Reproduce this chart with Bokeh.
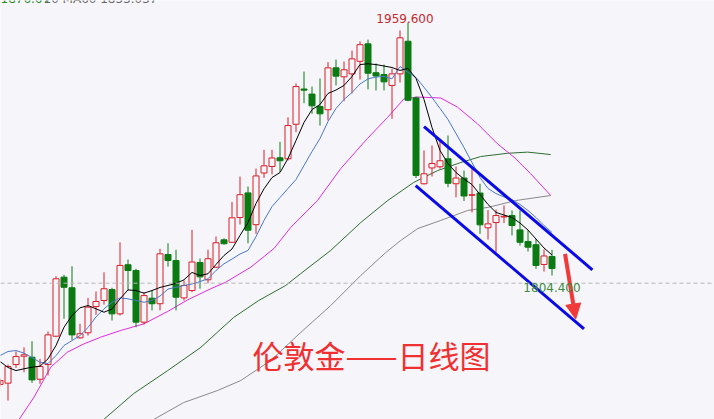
import numpy as np
from bokeh.plotting import figure
from bokeh.models import Range1d, Span, Label, Arrow, NormalHead, ColumnDataSource
from bokeh.embed import file_html
from bokeh.resources import INLINE

# ---- daily candles (London gold) ----
opens = [1737.6, 1738.4, 1749.8, 1754.9, 1754.3, 1740.8, 1749.8, 1767.2, 1803.4, 1796.9,
         1766.2, 1769.3, 1785.4, 1789.1, 1795.8, 1780.9, 1811.0, 1807.5, 1775.8, 1790.5,
         1787.1, 1817.3, 1813.6, 1790.7, 1795.2, 1812.4, 1801.8, 1809.5, 1826.3, 1824.8,
         1840.0, 1855.1, 1835.6, 1867.3, 1871.3, 1876.6, 1876.0, 1897.2, 1918.8, 1915.7,
         1908.1, 1906.1, 1931.8, 1926.3, 1928.1, 1935.8, 1946.5, 1928.8, 1927.7, 1921.0,
         1928.1, 1948.1, 1913.4, 1860.7, 1870.4, 1871.1, 1876.0, 1860.7, 1864.2, 1853.6,
         1855.0, 1833.7, 1836.9, 1840.3, 1841.2, 1832.4, 1825.3, 1823.3, 1811.2, 1816.1]
highs = [1741.2, 1749.8, 1757.8, 1760.4, 1764.1, 1753.3, 1770.1, 1804.0, 1804.8, 1810.1,
         1774.8, 1790.7, 1794.6, 1806.4, 1796.9, 1824.8, 1814.2, 1808.5, 1794.2, 1795.2,
         1820.8, 1824.2, 1820.2, 1801.4, 1832.4, 1814.8, 1820.2, 1828.3, 1827.2, 1849.6,
         1865.1, 1859.0, 1870.0, 1881.5, 1881.5, 1886.4, 1901.5, 1922.2, 1929.5, 1920.3,
         1925.3, 1935.3, 1936.9, 1935.7, 1942.4, 1948.0, 1949.1, 1934.5, 1933.8, 1931.2,
         1954.7, 1959.6, 1914.2, 1881.1, 1884.2, 1886.6, 1890.3, 1871.3, 1868.8, 1870.0,
         1860.7, 1844.6, 1844.9, 1847.4, 1844.3, 1844.3, 1832.0, 1826.9, 1820.4, 1820.1]
lows = [1736.3, 1727.7, 1747.8, 1745.1, 1738.6, 1738.0, 1743.1, 1766.6, 1777.9, 1765.0,
        1765.6, 1767.6, 1780.3, 1786.6, 1776.8, 1779.9, 1795.2, 1772.7, 1774.4, 1783.0,
        1783.0, 1809.9, 1783.0, 1789.1, 1794.2, 1796.3, 1799.7, 1809.1, 1823.4, 1824.5,
        1835.7, 1824.2, 1830.0, 1864.3, 1866.4, 1867.9, 1875.0, 1892.3, 1910.1, 1903.6,
        1896.4, 1899.5, 1921.0, 1911.3, 1916.1, 1924.6, 1918.6, 1917.9, 1917.9, 1900.5,
        1922.8, 1911.3, 1864.2, 1860.2, 1865.1, 1870.0, 1858.6, 1852.4, 1850.1, 1843.1,
        1830.0, 1826.5, 1818.7, 1836.6, 1829.0, 1822.8, 1819.1, 1808.5, 1806.9, 1804.4]
closes = [1740.0, 1748.6, 1754.7, 1755.8, 1740.4, 1748.6, 1768.0, 1802.4, 1797.2, 1768.0,
          1768.7, 1785.0, 1788.5, 1796.3, 1780.9, 1810.6, 1807.5, 1775.8, 1792.1, 1787.1,
          1817.7, 1813.6, 1791.1, 1798.3, 1812.7, 1803.6, 1814.7, 1824.5, 1823.9, 1839.8,
          1854.0, 1832.2, 1865.5, 1871.7, 1876.5, 1874.8, 1896.4, 1920.3, 1918.1, 1908.5,
          1903.6, 1931.8, 1926.7, 1930.6, 1937.3, 1946.0, 1928.5, 1926.8, 1923.2, 1928.1,
          1950.2, 1911.9, 1865.8, 1866.8, 1873.1, 1874.8, 1861.0, 1864.2, 1853.2, 1854.0,
          1835.5, 1836.1, 1841.2, 1840.7, 1835.1, 1824.8, 1821.8, 1810.6, 1816.4, 1808.7]

# ---- moving averages ----
ma5 = [1751.7, 1748.0, 1746.1, 1747.2, 1748.2, 1748.8, 1753.3, 1761.5, 1772.7, 1779.9,
       1784.6, 1786.0, 1784.0, 1781.9, 1783.9, 1790.1, 1795.6, 1795.2, 1793.6, 1795.2,
       1797.1, 1798.3, 1799.6, 1801.8, 1806.3, 1804.4, 1805.5, 1811.2, 1816.7, 1820.7,
       1829.0, 1836.9, 1848.6, 1857.6, 1864.5, 1867.6, 1876.2, 1887.2, 1898.3, 1906.2,
       1909.3, 1916.1, 1918.2, 1921.0, 1926.5, 1933.8, 1934.3, 1933.8, 1932.9, 1932.0,
       1930.2, 1931.4, 1925.3, 1912.4, 1895.2, 1881.1, 1873.1, 1867.6, 1863.6, 1860.2,
       1854.1, 1848.0, 1843.1, 1841.5, 1840.0, 1836.6, 1832.3, 1826.8, 1821.3, 1817.0]
ma10 = [1755.3, 1757.8, 1758.4, 1756.8, 1754.1, 1751.2, 1750.4, 1755.3, 1761.5, 1764.5,
        1767.6, 1772.5, 1779.0, 1784.0, 1787.9, 1790.7, 1790.1, 1789.1, 1788.0, 1789.1,
        1791.8, 1796.1, 1797.2, 1798.3, 1799.2, 1800.7, 1802.4, 1807.5, 1811.6, 1814.5,
        1817.6, 1819.8, 1828.3, 1838.2, 1846.7, 1852.3, 1857.8, 1863.3, 1871.9, 1880.5,
        1888.5, 1898.9, 1906.9, 1912.4, 1916.7, 1921.9, 1925.0, 1926.2, 1926.5, 1925.1,
        1932.6, 1929.1, 1925.9, 1919.9, 1913.6, 1906.9, 1900.1, 1891.5, 1882.9, 1873.7,
        1864.5, 1857.8, 1854.7, 1852.6, 1851.0, 1848.0, 1844.3, 1840.0, 1835.1, 1830.8]
ma20_x = [2.38, 4.25, 6.34, 8.43, 10.5, 12.59, 15.09, 18.0, 20.93, 23.43, 26.34, 28.21,
          31.34, 34.25, 36.34, 39.68, 42.59, 45.93, 48.43, 50.5, 52.18, 55.09, 57.18,
          59.68, 62.18, 64.25, 66.34, 68.84]
ma20_y = [1716.1, 1729.8, 1748.2, 1757.4, 1762.5, 1766.6, 1770.7, 1774.8, 1782.3, 1789.4,
          1796.3, 1800.3, 1809.5, 1821.0, 1833.9, 1850.4, 1870.0, 1888.5, 1901.3, 1912.8,
          1913.9, 1913.3, 1907.7, 1897.5, 1885.2, 1877.0, 1866.8, 1853.5]
ma60_x = [12.96, 16.71, 20.96, 25.09, 29.21, 32.34, 35.71, 37.59, 41.34, 45.09, 48.46,
          51.71, 54.71, 57.59, 60.09, 63.46, 65.96, 68.84]
ma60_y = [1716.1, 1732.0, 1746.1, 1760.3, 1778.7, 1789.1, 1798.3, 1805.6, 1819.8, 1836.9,
          1850.4, 1861.5, 1868.8, 1873.7, 1877.4, 1879.4, 1880.1, 1878.6]
ma120_x = [19.21, 22.96, 27.21, 30.09, 33.84, 37.59, 41.34, 45.09, 48.21, 50.09, 52.21,
           55.09, 58.46, 61.09, 64.46, 68.84]
ma120_y = [1716.1, 1726.5, 1733.9, 1740.0, 1752.3, 1769.5, 1786.0, 1804.4, 1818.5, 1825.9,
           1833.2, 1838.2, 1844.3, 1846.3, 1850.4, 1853.5]

# ---- drawn channel, arrow, reference level ----
channel_upper_x = [53.0, 74.05]
channel_upper_y = [1895.8, 1807.9]
channel_lower_x = [51.96, 73.0]
channel_lower_y = [1859.6, 1771.7]
arrow_x = [70.63, 71.96]
arrow_y = [1817.7, 1777.8]
ref_level = 1799.7

title_text = "伦敦金——日线图"
legend_green = "1876.67"
legend_gray = "10  MA60 1833.037"

BG = "#f5f5fa"
RED = "#dc1e28"
GREEN = "#0b7a12"

o = np.array(opens); h = np.array(highs); l = np.array(lows); c = np.array(closes)
idx = np.arange(len(o))
up = c >= o

W, H = 714, 419
p = figure(width=W, height=H, output_backend="svg", toolbar_location=None,
           x_range=Range1d(0.0625, 89.3125), y_range=Range1d(1716.1, 1973.1),
           min_border=0, min_border_left=0, min_border_right=0,
           min_border_top=0, min_border_bottom=0)
p.background_fill_color = BG
p.border_fill_color = BG
p.outline_line_color = None
p.xaxis.visible = False
p.yaxis.visible = False
p.grid.visible = False

p.add_layout(Span(location=ref_level, dimension="width", line_color="#b8b8b8",
                  line_dash="4 3", line_width=1))

# moving averages
p.line(ma120_x, ma120_y, line_color="#8a8a8a", line_width=1)
p.line(ma60_x, ma60_y, line_color="#2f6e2f", line_width=1)
p.line(ma20_x, ma20_y, line_color="#e02ce0", line_width=1)

src = ColumnDataSource(dict(
    x=idx, high=h, low=l,
    top=np.maximum(o, c), bottom=np.minimum(o, c),
    color=[RED if u else GREEN for u in up],
    fill=[BG if u else GREEN for u in up],
))
p.segment(x0="x", y0="high", x1="x", y1="low", source=src, line_color="color", line_width=1)
p.vbar(x="x", width=0.75, top="top", bottom="bottom", source=src,
       fill_color="fill", line_color="color", line_width=1)

p.line(idx, ma10, line_color="#4a78c8", line_width=1)
p.line(idx, ma5, line_color="#000000", line_width=1)

# channel
p.line(channel_upper_x, channel_upper_y, line_color="#0a0ae6", line_width=3)
p.line(channel_lower_x, channel_lower_y, line_color="#0a0ae6", line_width=3)
p.add_layout(Arrow(end=NormalHead(size=15, fill_color="#f03a3a", line_color="#f03a3a"),
                   x_start=arrow_x[0], y_start=arrow_y[0], x_end=arrow_x[1], y_end=arrow_y[1],
                   line_color="#f03a3a", line_width=4))

# high / low labels from the data
i_hi = int(np.argmax(h))
i_lo = i_hi + int(np.argmin(l[i_hi:]))
p.add_layout(Label(x=i_hi, y=h[i_hi], text=f"{h[i_hi]:.3f}", text_align="center",
                   text_baseline="alphabetic", x_offset=-3, y_offset=4, text_color="#c8282c",
                   text_font="DejaVu Sans", text_font_size="12px"))
p.add_layout(Label(x=i_lo, y=l[i_lo], text=f"{l[i_lo]:.3f}", text_align="center",
                   text_baseline="alphabetic", y_offset=-12, text_color="#3c8c3c",
                   text_font="DejaVu Sans", text_font_size="12px"))

p.add_layout(Label(x=252, y=65, x_units="screen", y_units="screen", text=title_text,
                   text_baseline="middle", text_align="left", text_color="#f03030",
                   text_font="Noto Sans CJK SC", text_font_size="31px"))
p.add_layout(Label(x=0, y=421, x_units="screen", y_units="screen", text=legend_green,
                   text_baseline="alphabetic", text_color="#2a8a2a",
                   text_font="DejaVu Sans", text_font_size="12px"))
p.add_layout(Label(x=43, y=421, x_units="screen", y_units="screen", text=legend_gray,
                   text_baseline="alphabetic", text_color="#666666",
                   text_font="DejaVu Sans", text_font_size="12px"))

open("out.html", "w").write(file_html(p, INLINE))
